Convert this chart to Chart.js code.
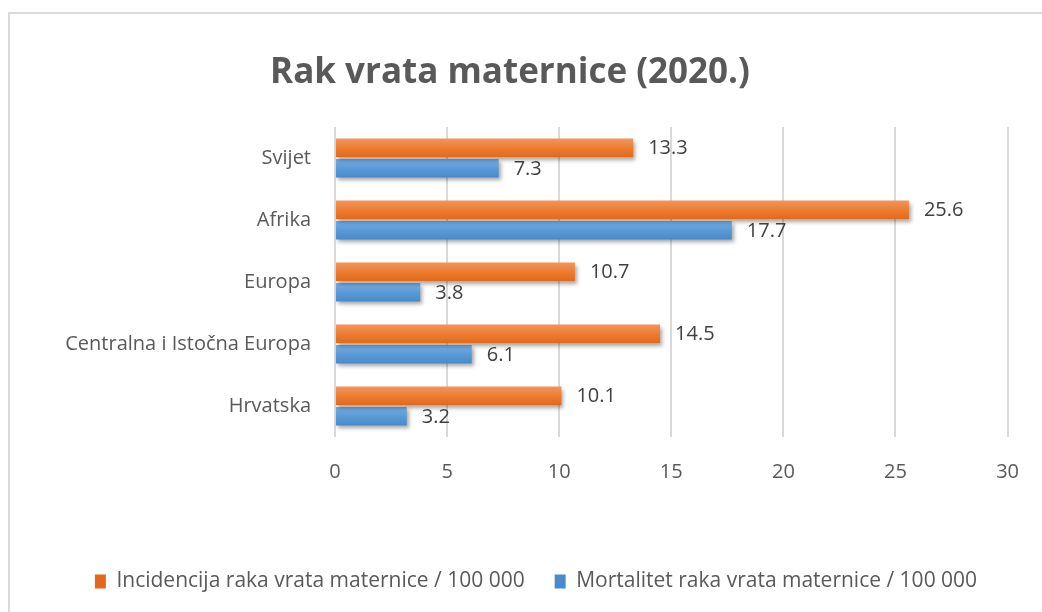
<!DOCTYPE html>
<html>
<head>
<meta charset="utf-8">
<script src="https://cdn.jsdelivr.net/npm/chart.js@4.4.0/dist/chart.umd.min.js"></script>
<style>
  html, body { margin: 0; padding: 0; background: #fff; }
  #wrap { position: relative; width: 1042px; height: 612px; overflow: hidden; }
  #okvir { position: absolute; left: 8px; top: 12px; width: 1100px; height: 700px; border: 2px solid #dadada; box-sizing: border-box; }
  #chartBar { position: absolute; left: 0; top: 0; }
</style>
</head>
<body>
<div id="wrap">
  <div id="okvir"></div>
  <canvas id="chartBar" width="1042" height="612"></canvas>
</div>
<script>
var kategorije = ['Svijet', 'Afrika', 'Europa', 'Centralna i Istočna Europa', 'Hrvatska']
var incidencija = [13.3, 25.6, 10.7, 14.5, 10.1]
var mortalitet = [7.3, 17.7, 3.8, 6.1, 3.2]
var xTicks = [0, 5, 10, 15, 20, 25, 30]
var nazivi = ['Incidencija raka vrata maternice / 100 000', 'Mortalitet raka vrata maternice / 100 000']

var font = "'Open Sans', Lato, sans-serif"
var velicina = 20
var catPct = 0.66
var barPct = 0.9

// gradijent po traci (svjetlije gore, tamnije dolje)
function boja(gornja, srednja, donja) {
    return function (c) {
        var chart = c.chart
        var area = chart.chartArea
        if (!area || c.dataIndex === undefined) return srednja
        var y = chart.scales.y
        var catH = area.height / kategorije.length
        var slot = catH * catPct / 2
        var centar = y.getPixelForValue(c.dataIndex) + (c.datasetIndex - 0.5) * slot
        var pola = slot * barPct / 2
        var g = chart.ctx.createLinearGradient(0, centar - pola, 0, centar + pola)
        g.addColorStop(0, gornja)
        g.addColorStop(0.5, srednja)
        g.addColorStop(1, donja)
        return g
    }
}

var sjenaIOznake = {
    id: 'sjenaIOznake',
    afterLayout: function (chart) {
        // legenda je u originalu malo desno od sredine
        chart.legend.left += 26
        chart.legend.right += 26
    },
    beforeDatasetsDraw: function (chart) {
        var ctx = chart.ctx
        ctx.save()
        ctx.shadowColor = 'rgba(0,0,0,0.35)'
        ctx.shadowBlur = 4
        ctx.shadowOffsetX = 2
        ctx.shadowOffsetY = 3
    },
    afterDatasetsDraw: function (chart) {
        var ctx = chart.ctx
        ctx.restore()
        ctx.save()
        ctx.font = velicina + 'px ' + font
        ctx.fillStyle = '#404040'
        ctx.textBaseline = 'middle'
        ctx.textAlign = 'left'
        chart.data.datasets.forEach(function (ds, i) {
            var meta = chart.getDatasetMeta(i)
            meta.data.forEach(function (bar, j) {
                ctx.fillText(ds.data[j].toFixed(1), bar.x + 15, bar.y + 1)
            })
        })
        ctx.restore()
    }
}

var ctx = document.getElementById('chartBar')

var myBarChart = new Chart(ctx, {
    type: 'bar',
    data: {
        labels: kategorije,
        datasets: [
            {
                label: nazivi[0],
                data: incidencija,
                backgroundColor: boja('#f3945e', '#ed7d31', '#e2691c'),
                categoryPercentage: catPct,
                barPercentage: barPct
            },
            {
                label: nazivi[1],
                data: mortalitet,
                backgroundColor: boja('#74aee6', '#5b9bd5', '#478acd'),
                categoryPercentage: catPct,
                barPercentage: barPct
            }
        ]
    },
    plugins: [sjenaIOznake],
    options: {
        indexAxis: 'y',
        responsive: false,
        animation: false,
        layout: { padding: { left: 8, right: 30, top: 0, bottom: 10 } },
        scales: {
            x: {
                min: 0,
                max: 30,
                afterBuildTicks: function (axis) {
                    axis.ticks = xTicks.map(function (v) { return { value: v } })
                },
                afterFit: function (axis) { axis.height = 104 },
                grid: { color: '#d9d9d9', lineWidth: 2, drawTicks: false },
                border: { display: false },
                ticks: { color: '#595959', font: { family: font, size: velicina }, padding: 23 }
            },
            y: {
                afterFit: function (axis) { axis.width = 327 },
                grid: { display: false, drawTicks: false },
                border: { display: false },
                ticks: { color: '#595959', font: { family: font, size: velicina }, padding: 24 }
            }
        },
        plugins: {
            title: {
                display: true,
                text: 'Rak vrata maternice (2020.)',
                color: '#595959',
                font: { family: font, size: 35, weight: 'bold' },
                padding: { top: 52, bottom: 33 }
            },
            legend: {
                position: 'bottom',
                labels: {
                    color: '#595959',
                    font: { family: font, size: 21 },
                    boxWidth: 11,
                    boxHeight: 14,
                    padding: 30
                }
            },
            tooltip: { enabled: false }
        }
    }
});
</script>
</body>
</html>
